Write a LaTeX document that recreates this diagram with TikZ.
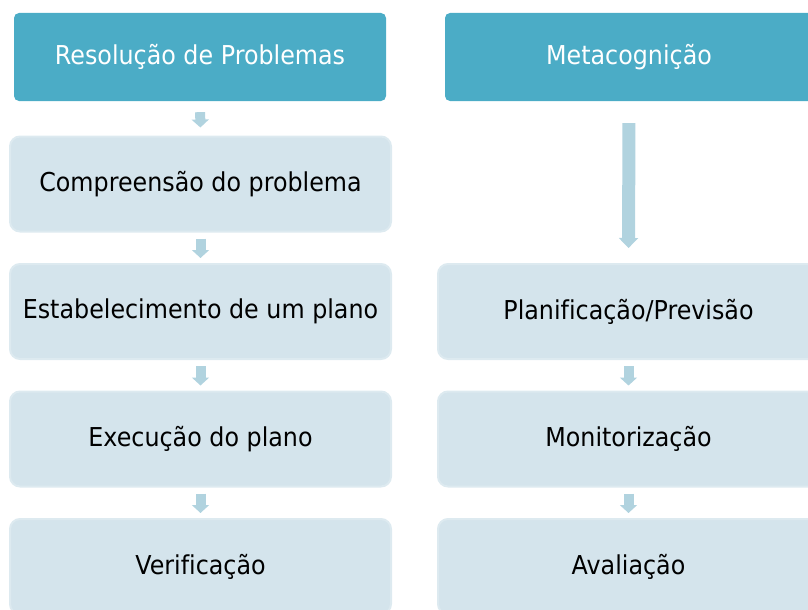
\documentclass[tikz,border=0pt]{standalone}
\usepackage{fontspec}
\setmainfont{DejaVu Sans}[FakeStretch=0.915, Ligatures=NoCommon]
\usetikzlibrary{arrows.meta}
\definecolor{headfill}{HTML}{4BACC6}
\definecolor{boxfill}{HTML}{D4E4EC}
\definecolor{boxline}{HTML}{DDEAF0}
\definecolor{arrowc}{HTML}{B1D3DF}
\begin{document}
\begin{tikzpicture}[x=1pt,y=-1pt,
  headbox/.style={rectangle, rounded corners=5pt, fill=headfill, text=white,
    minimum height=88pt, inner sep=0pt, font=\fontsize{26}{30}\selectfont},
  stagebox/.style={rectangle, rounded corners=10pt, fill=boxfill, draw=boxline, line width=2pt,
    minimum width=381pt, minimum height=95pt, inner sep=0pt, text=black, font=\fontsize{26}{30}\selectfont},
  smallarrow/.style={draw=arrowc, line width=10pt, -{Triangle[width=17pt,length=8pt]}},
  longarrow/.style={draw=arrowc, line width=13pt, -{Triangle[width=19pt,length=10pt]}}
]
\useasboundingbox (0,0) rectangle (808,610);
% left column
\node[headbox, minimum width=372pt] (h1) at (200,57) {Resolução de Problemas};
\node[stagebox] (a1) at (200.5,184) {Compreensão do problema};
\node[stagebox] (a2) at (200.5,311.5) {Estabelecimento de um plano};
\node[stagebox] (a3) at (200.5,439) {Execução do plano};
\node[stagebox] (a4) at (200.5,566.5) {Verificação};
% right column
\node[headbox, minimum width=368pt] (h2) at (629,57) {Metacognição};
\node[stagebox] (b2) at (628.5,311.5) {Planificação/Previsão};
\node[stagebox] (b3) at (628.5,439) {Monitorização};
\node[stagebox] (b4) at (628.5,566.5) {Avaliação};
% arrows
\draw[smallarrow, shorten <=11pt, shorten >=8pt] (h1.south) -- (a1.north);
\draw[smallarrow, shorten <=6pt, shorten >=5pt] (a1.south) -- (a2.north);
\draw[smallarrow, shorten <=6pt, shorten >=5pt] (a2.south) -- (a3.north);
\draw[smallarrow, shorten <=6pt, shorten >=5pt] (a3.south) -- (a4.north);
\draw[longarrow, shorten <=22pt, shorten >=15pt] (h2.south) -- (b2.north);
\draw[smallarrow, shorten <=6pt, shorten >=5pt] (b2.south) -- (b3.north);
\draw[smallarrow, shorten <=6pt, shorten >=5pt] (b3.south) -- (b4.north);
\end{tikzpicture}
\end{document}
